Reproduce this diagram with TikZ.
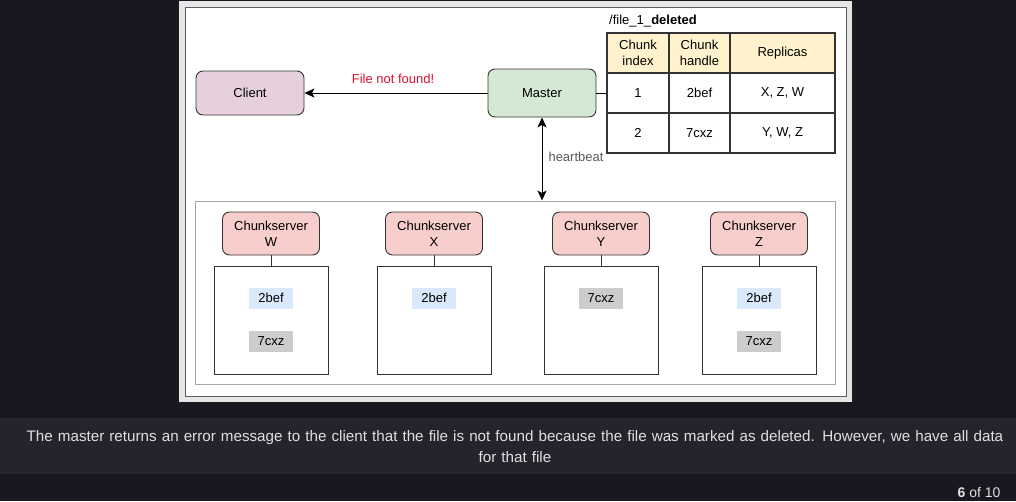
\documentclass[tikz,border=0pt]{standalone}
\usepackage{fontspec}
\setmainfont{Liberation Sans}
\usetikzlibrary{arrows.meta}
\definecolor{pagebg}{HTML}{181920}
\definecolor{capbg}{HTML}{23242C}
\definecolor{frameg}{HTML}{E6E6E6}
\definecolor{clientc}{HTML}{E6D0DE}
\definecolor{masterc}{HTML}{D5E8D4}
\definecolor{csc}{HTML}{F8CECC}
\definecolor{hdrc}{HTML}{FFF2CC}
\definecolor{bluec}{HTML}{DAE8FC}
\definecolor{grayc}{HTML}{CCCCCC}
\definecolor{redt}{HTML}{E0102F}
\definecolor{edge}{HTML}{333333}
\tikzset{
  dfont/.style={font=\fontsize{13}{16}\selectfont},
  rbox/.style={draw=edge, line width=0.9pt, rounded corners=7pt, dfont, align=center, inner sep=0pt},
  store/.style={draw=edge, line width=0.9pt, fill=white, minimum width=114pt, minimum height=108pt, inner sep=0pt},
  chip/.style={inner sep=0pt, minimum width=44pt, minimum height=21pt, dfont},
  cell/.style={draw=edge, line width=1.6pt, inner sep=0pt, dfont, align=center},
  conn/.style={draw=black, line width=1pt},
  arr/.style={conn, -{Stealth[length=10pt,width=9pt,inset=2.5pt]}},
}
\begin{document}
\begin{tikzpicture}[x=1pt,y=-1pt]
\useasboundingbox (0,0) rectangle (1016,501);
\fill[pagebg] (0,0) rectangle (1016,501);
\fill[capbg] (0,418) rectangle (1016,474);
% diagram frame
\fill[frameg] (179,1) rectangle (852,402);
\draw[fill=white, draw=edge!80, line width=0.8pt] (185,7) rectangle (846,396);

% group box
\node[draw=black!35, line width=1pt, minimum width=640pt, minimum height=183pt, inner sep=0pt] (group) at (515,292.5) {};

% client, master
\node[rbox, fill=clientc, minimum width=108pt, minimum height=44pt] (client) at (250,93) {Client};
\node[rbox, fill=masterc, minimum width=108pt, minimum height=48pt] (master) at (542,93) {Master};
\draw[arr] (master.west) -- (client.east);
\node[text=redt, dfont] (lbl) at (393,79) {File not found!};

\draw[conn, {Stealth[length=10pt,width=9pt,inset=2.5pt]}-{Stealth[length=10pt,width=9pt,inset=2.5pt]}] (master.south) -- (group.north -| master.south);
\node[text=black!65, dfont, anchor=west] (hb) at (545,157) {heartbeat};

% table
\node[anchor=south west, inner sep=0pt, dfont] (ttl) at (609,27) {/file\_1\_\textbf{deleted}};
\node[cell, fill=hdrc, minimum width=62pt, minimum height=40pt] (h1) at (638,53) {Chunk\\index};
\node[cell, fill=hdrc, minimum width=61pt, minimum height=40pt] (h2) at (699.5,53) {Chunk\\handle};
\node[cell, fill=hdrc, minimum width=105pt, minimum height=40pt] (h3) at (782.5,53) {Replicas};
\node[cell, fill=white, minimum width=62pt, minimum height=40pt] (a1) at (638,93) {1};
\node[cell, fill=white, minimum width=61pt, minimum height=40pt] (a2) at (699.5,93) {2bef};
\node[cell, fill=white, minimum width=105pt, minimum height=40pt] (a3) at (782.5,93) {X, Z, W};
\node[cell, fill=white, minimum width=62pt, minimum height=40pt] (b1) at (638,133) {2};
\node[cell, fill=white, minimum width=61pt, minimum height=40pt] (b2) at (699.5,133) {7cxz};
\node[cell, fill=white, minimum width=105pt, minimum height=40pt] (b3) at (782.5,133) {Y, W, Z};
\draw[conn] (master.east) -- (a1.west);

% chunkservers
\foreach \n/\x in {W/271, X/434, Y/601, Z/759} {
  \node[rbox, fill=csc, minimum width=97pt, minimum height=43pt] (cs\n) at (\x,233.5) {Chunkserver\\\n};
  \node[store] (st\n) at (\x,320) {};
  \draw[conn, draw=edge] (cs\n.south) -- (st\n.north);
}
\node[chip, fill=bluec] (w1) at (271,298) {2bef};
\node[chip, fill=grayc] (w2) at (271,341) {7cxz};
\node[chip, fill=bluec] (x1) at (434,298) {2bef};
\node[chip, fill=grayc] (y1) at (601,298) {7cxz};
\node[chip, fill=bluec] (z1) at (759,298) {2bef};
\node[chip, fill=grayc] (z2) at (759,341) {7cxz};

% caption
\node[text=white!88!black, font=\fontsize{15.2}{21}\selectfont, align=center, text width=1010pt] (cap) at (515,447) {The master returns an error message to the client that the file is not found because the file was marked as deleted. However, we have all data\\for that file};
\node[text=white!88!black, font=\fontsize{14}{16}\selectfont, anchor=east] (pg) at (1004,492) {\textbf{6} of 10};
\end{tikzpicture}
\end{document}
